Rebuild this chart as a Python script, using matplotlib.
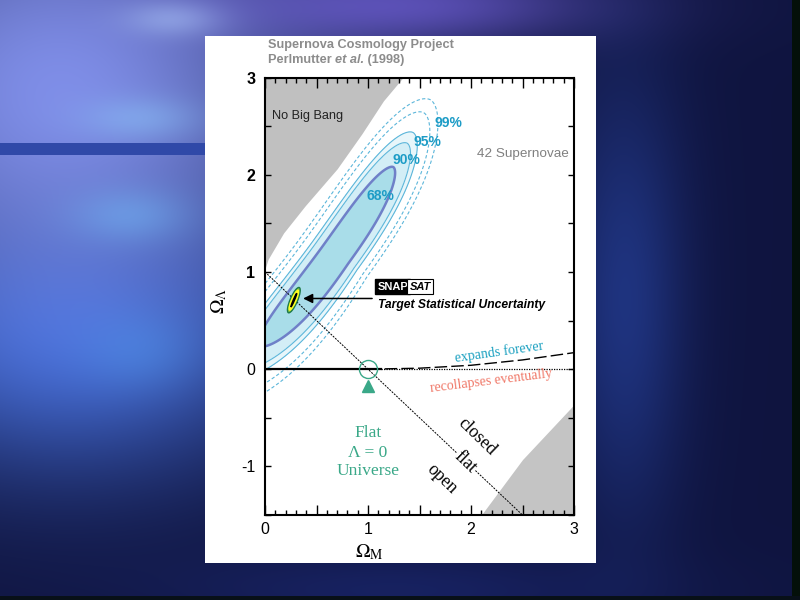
import numpy as np
import matplotlib
matplotlib.use("Agg")
import matplotlib.pyplot as plt
from matplotlib.patches import Rectangle, Ellipse
from matplotlib.ticker import MultipleLocator

plt.rcParams['axes.unicode_minus'] = False
plt.rcParams['mathtext.fontset'] = 'stix'

SANS = 'Liberation Sans'
SERIF = 'Liberation Serif'

# ---------------- data ----------------
conf_labels = ['68%', '90%', '95%', '99%']
conf_label_om = [1.12, 1.37, 1.58, 1.78]
conf_label_ol = [1.78, 2.15, 2.34, 2.53]
chi2_levels = [2.30, 4.61, 5.99, 9.21, 11.8]

# shape of the likelihood surface
fit_ref = [0.68, 1.17]
fit_slope = 1.46
fit_width = 0.0963
fit_power = 1.8
fit_len_up = 0.81
fit_len_down = 0.90
fit_bend_up = 0.04
fit_bend_down = 0.06
fit_taper = 0.2

# "No Big Bang" boundary
nbb_om = [0.0, 0.03, 0.18, 0.39, 0.70, 0.94, 1.15, 1.34]
nbb_ol = [1.03, 1.13, 1.40, 1.68, 2.06, 2.42, 2.76, 3.0]
# lower-right excluded region
lr_om = [2.10, 2.50, 3.00]
lr_ol = [-1.50, -0.93, -0.365]
# flat universe line
flat_om = [0.0, 2.5]
flat_ol = [1.0, -1.5]
# expands forever / recollapses boundary
exp_om = [1.0, 1.5, 2.0, 2.5, 3.0]
exp_ol = [0.0, 0.01, 0.04, 0.095, 0.17]
# Lambda = 0 line
zero_solid_om = [0.0, 1.13]
zero_dot_om = [1.13, 3.0]
# flat Lambda = 0 universe point
flat_l0_om = 1.0
flat_l0_ol = 0.0
# SNAP target
snap_om = 0.28
snap_ol = 0.71
snap_w = [0.072, 0.043, 0.012]
snap_h = [0.28, 0.22, 0.15]
snap_angle = 68
# arrow to SNAP target
arrow_om = [1.04, 0.37]
arrow_ol = 0.727
# flat universe label lines
flat_text = ['Flat', '\u039b = 0', 'Universe']
flat_text_ol = [-0.66, -0.86, -1.05]

# ---------------- figure ----------------
fig = plt.figure(figsize=(8, 6), dpi=100)

# background (slide)
bg = fig.add_axes([0, 0, 1, 1], zorder=0)
H, W = 600, 800
yy, xx = np.mgrid[0:H, 0:W]
img = np.zeros((H, W, 3))
img[:] = np.array([0.06, 0.08, 0.25])
blobs = [
    (70, 330, 210, 140, (0.24, 0.43, 0.88), 0.9),
    (60, 90, 270, 230, (0.52, 0.58, 0.94), 0.95),
    (175, 18, 50, 18, (0.72, 0.86, 1.0), 0.5),
    (140, 118, 60, 22, (0.55, 0.78, 0.98), 0.45),
    (130, 215, 60, 28, (0.45, 0.74, 0.98), 0.45),
    (140, 350, 60, 40, (0.32, 0.62, 0.95), 0.35),
    (400, 5, 200, 40, (0.45, 0.38, 0.86), 0.7),
    (625, 300, 60, 220, (0.16, 0.28, 0.66), 0.6),
    (400, 590, 240, 40, (0.12, 0.18, 0.50), 0.5),
]
for cx, cy, sx, sy, col, s in blobs:
    w = s * np.exp(-(((xx - cx) / sx) ** 2 + ((yy - cy) / sy) ** 2))
    img = img * (1 - w[..., None]) + np.array(col) * w[..., None]
bg.imshow(np.clip(img, 0, 1), extent=(0, W, H, 0), aspect='auto', interpolation='bilinear')
bg.add_patch(Rectangle((0, 143), 205, 12, facecolor='#3049a8', edgecolor='none'))
bg.add_patch(Rectangle((792, 0), 8, 600, facecolor='#04100a', edgecolor='none'))
bg.add_patch(Rectangle((0, 596), 800, 4, facecolor='#081018', edgecolor='none'))
bg.add_patch(Rectangle((205, 36), 391, 527, facecolor='white', edgecolor='none'))
bg.set_xlim(0, W)
bg.set_ylim(H, 0)
bg.axis('off')

# main axes
ax = fig.add_axes([265 / 800, 85 / 600, 309 / 800, 437.5 / 600], zorder=2)
ax.set_xlim(0, 3)
ax.set_ylim(-1.5, 3)

# excluded regions
ax.fill_between(nbb_om, nbb_ol, 3.0, color='#c0c0c0', lw=0, zorder=1)
ax.fill_between(lr_om, -1.5, lr_ol, color='#c4c4c4', lw=0, zorder=1)

# likelihood surface
om = np.linspace(-0.2, 3.2, 700)
ol = np.linspace(-1.7, 3.2, 900)
OM, OL = np.meshgrid(om, ol)
th = np.arctan(fit_slope)
dx = OM - fit_ref[0]
dy = OL - fit_ref[1]
u = dx * np.cos(th) + dy * np.sin(th)
v = dx * np.sin(th) - dy * np.cos(th)
vm = np.where(u < 0, -fit_bend_down * u ** 2, -fit_bend_up * u ** 2)
b = fit_width * np.where((u < 0) & (v > vm), np.exp(-fit_taper * u), 1.0)
a = np.where(u > 0, fit_len_up, fit_len_down)
chi2 = np.abs((v - vm) / b) ** fit_power + np.abs(u / a) ** 3

ax.contourf(OM, OL, chi2, levels=[0, chi2_levels[0], chi2_levels[1], chi2_levels[2]],
            colors=['#a9dde9', '#d3eef6', '#e8f6fa'], zorder=2)
ax.contour(OM, OL, chi2, levels=chi2_levels[1:3], colors='#5cb6da',
           linewidths=0.8, zorder=3)
ax.contour(OM, OL, chi2, levels=chi2_levels[3:], colors='#5cb6da',
           linewidths=0.8, linestyles=[(0, (3, 2))], zorder=3)
ax.contour(OM, OL, chi2, levels=chi2_levels[:1], colors='#6f80c8',
           linewidths=1.8, zorder=4)

for lab, x, y in zip(conf_labels, conf_label_om, conf_label_ol):
    ax.text(x, y, lab, color='#1d9cc6', fontsize=10, fontweight='bold',
            family=SANS, ha='center', va='center', zorder=6)

# reference lines
ax.plot(flat_om, flat_ol, color='black', lw=0.7, ls=(0, (2, 1.2)), zorder=5)
ax.plot(zero_solid_om, [0, 0], color='black', lw=1.6, zorder=5)
ax.plot(zero_dot_om, [0, 0], color='black', lw=0.9, ls=(0, (1, 1)), zorder=5)
ax.plot(exp_om, exp_ol, color='black', lw=1.0, ls=(0, (9, 3)), zorder=5)

# flat Lambda=0 universe
ax.plot([flat_l0_om], [flat_l0_ol], marker='o', ms=13, mfc='none',
        mec='#3aa888', mew=1.0, zorder=6)
ax.plot([flat_l0_om], [flat_l0_ol - 0.17], marker='^', ms=9, color='#3aa888', zorder=6)
for t, y in zip(flat_text, flat_text_ol):
    ax.text(flat_l0_om, y, t, color='#3aa888', fontsize=12.5, family=SERIF,
            ha='center', va='center', zorder=6)

# SNAP target
for w_, h_, fc, ec in zip(snap_w, snap_h, ['#7cc04a', '#ffff20', 'black'],
                          ['#1f7a4a', '#ffff20', 'black']):
    ax.add_patch(Ellipse((snap_om, snap_ol), w_, h_, angle=snap_angle - 90,
                         facecolor=fc, edgecolor=ec, lw=1.0, zorder=7))
ax.annotate('', xy=(arrow_om[1], arrow_ol), xytext=(arrow_om[0], arrow_ol),
            arrowprops=dict(arrowstyle='-|>', color='black', lw=1.1,
                            mutation_scale=14, shrinkA=0, shrinkB=0), zorder=7)
ax.text(1.39, 0.85, 'SNAP', color='white', fontsize=8, fontweight='bold', family=SANS,
        ha='right', va='center', zorder=8,
        bbox=dict(facecolor='black', edgecolor='black', pad=1.6))
ax.text(1.405, 0.85, 'SAT', color='black', fontsize=8, fontweight='bold',
        fontstyle='italic', family=SANS, ha='left', va='center', zorder=8,
        bbox=dict(facecolor='white', edgecolor='black', lw=0.8, pad=1.6))
ax.text(1.10, 0.655, 'Target Statistical Uncertainty', fontsize=8.7, fontweight='bold',
        fontstyle='italic', family=SANS, ha='left', va='center', zorder=8)

# region labels
ax.text(0.065, 2.6, 'No Big Bang', fontsize=9.2, family=SANS, color='#222222',
        ha='left', va='center', zorder=6)
ax.text(2.055, 2.21, '42 Supernovae', fontsize=9.7, family=SANS, color='#808080',
        ha='left', va='center', zorder=6)
ax.text(2.27, 0.18, 'expands forever', fontsize=10, family=SERIF, color='#1aa0c0',
        rotation=8, ha='center', va='center', zorder=6)
ax.text(2.2, -0.12, 'recollapses eventually', fontsize=10, family=SERIF, color='#f07868',
        rotation=7, ha='center', va='center', zorder=6)
ax.text(2.055, -0.69, 'closed', fontsize=13, family=SERIF, rotation=-44,
        ha='center', va='center', zorder=6)
ax.text(1.94, -0.96, 'flat', fontsize=13, family=SERIF, rotation=-44,
        ha='center', va='center', zorder=6,
        bbox=dict(facecolor='white', edgecolor='none', pad=0.5))
ax.text(1.72, -1.13, 'open', fontsize=13, family=SERIF, rotation=-44,
        ha='center', va='center', zorder=6)

# axes styling
for sp in ax.spines.values():
    sp.set_linewidth(1.5)
    sp.set_zorder(9)
ax.xaxis.set_major_locator(MultipleLocator(0.5))
ax.xaxis.set_minor_locator(MultipleLocator(0.1))
ax.yaxis.set_major_locator(MultipleLocator(0.5))
ax.xaxis.set_major_formatter(lambda x, p: f'{x:.0f}' if abs(x - round(x)) < 1e-6 else '')
ax.yaxis.set_major_formatter(lambda x, p: f'{x:.0f}' if abs(x - round(x)) < 1e-6 else '')
ax.tick_params(which='both', direction='in', top=True, right=True, width=1.0)
ax.tick_params(axis='x', which='major', length=7, pad=5, labelsize=11.5)
ax.tick_params(axis='x', which='minor', length=3.5)
ax.tick_params(axis='y', which='major', length=4.5, pad=7, labelsize=11.5)
fig.canvas.draw()
for lab in ax.get_xticklabels() + ax.get_yticklabels():
    lab.set_family(SANS)
for lab in ax.get_yticklabels():
    if lab.get_text() in ('1', '2', '3'):
        lab.set_fontweight('bold')

ax.set_xlabel(r'$\Omega_{\mathrm{M}}$', fontsize=14)
ax.set_ylabel(r'$\Omega_{\Lambda}$', fontsize=14)
ax.xaxis.set_label_coords(0.337, -0.062)
ax.yaxis.set_label_coords(-0.118, 0.49)

# header
fig.text(268 / 800, 1 - 45 / 600, 'Supernova Cosmology Project', fontsize=9.2,
         fontweight='bold', family=SANS, color='#8c8c8c', va='center', ha='left')
fig.canvas.draw()
r = fig.canvas.get_renderer()
x0 = 268 / 800
y2 = 1 - 60 / 600
for piece, style in [('Perlmutter ', 'normal'), ('et al.', 'italic'), (' (1998)', 'normal')]:
    t = fig.text(x0, y2, piece, fontsize=9.2, fontweight='bold', fontstyle=style,
                 family=SANS, color='#8c8c8c', va='center', ha='left')
    bb = t.get_window_extent(renderer=r)
    x0 += bb.width / fig.bbox.width

fig.savefig('out.png', dpi=100)
